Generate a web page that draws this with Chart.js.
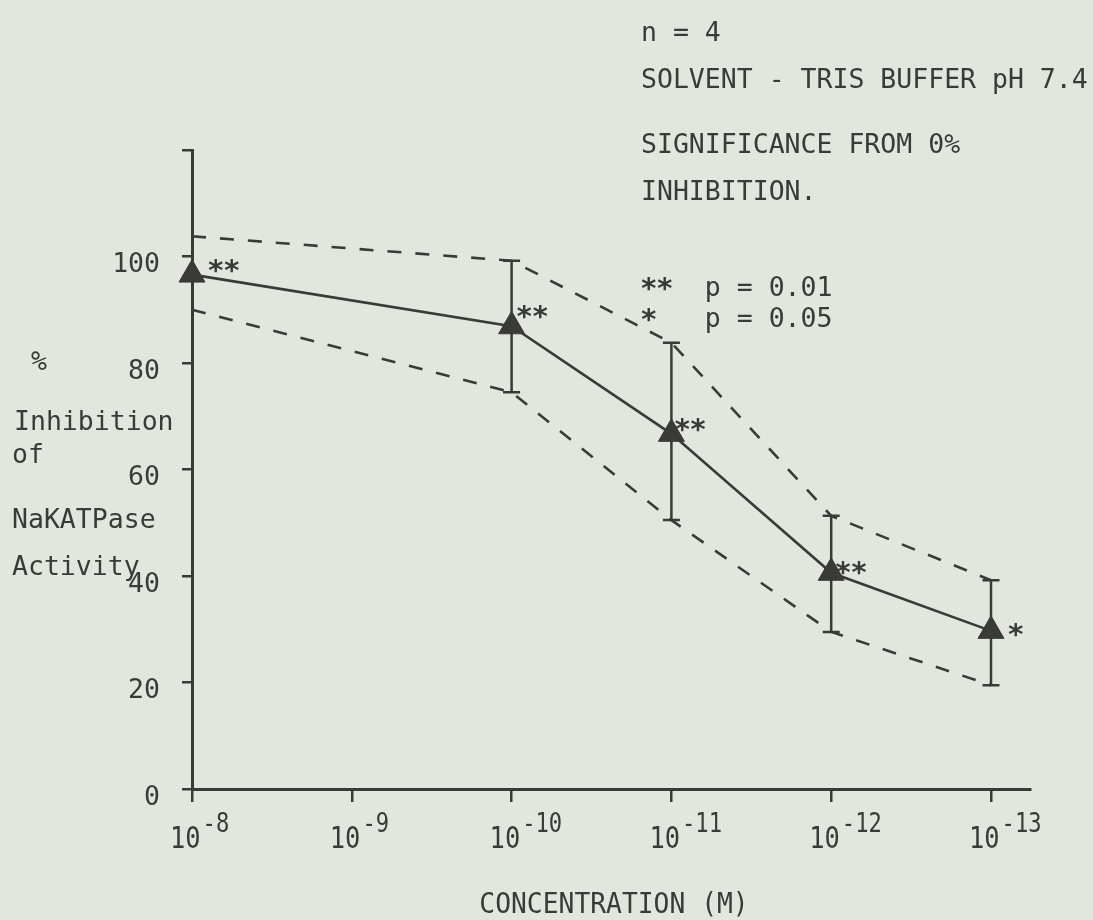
<!DOCTYPE html>
<html>
<head>
<meta charset="utf-8">
<script src="https://cdn.jsdelivr.net/npm/chart.js@4/dist/chart.umd.min.js"></script>
<style>
  html, body { margin: 0; padding: 0; background: #e3e6de; }
  #wrap { width: 1093px; height: 920px; position: relative; }
</style>
</head>
<body>
<div id="wrap"><canvas id="c" width="1093" height="920"></canvas></div>
<script>
// ---------- data ----------
const categoryBase = '10';
const categoryExponents = ['-8', '-9', '-10', '-11', '-12', '-13'];
const yTickValues = [0, 20, 40, 60, 80, 100, 120];
const yTickLabels = ['0', '20', '40', '60', '80', '100', ''];
const meanInhibition = [96.6, null, 86.9, 66.7, 40.6, 29.7];
const upperLimit = [103.8, null, 99.2, 83.8, 51.3, 39.2];
const lowerLimit = [90.0, null, 74.5, 50.5, 29.5, 19.5];
const errorBarHigh = [null, null, 99.2, 83.8, 51.3, 39.2];
const errorBarLow = [null, null, 74.5, 50.5, 29.5, 19.5];
const significance = ['**', '', '**', '**', '**', '*'];
const notes = ['n = 4', 'SOLVENT - TRIS BUFFER pH 7.4', 'SIGNIFICANCE FROM 0%', 'INHIBITION.', '**  p = 0.01', '*   p = 0.05'];
const yTitleLines = ['%', 'Inhibition', 'of', 'NaKATPase', 'Activity'];
const xTitle = 'CONCENTRATION (M)';

// ---------- style ----------
const ink = '#3a3a36';
const FAM = '"DejaVu Sans Mono", "Liberation Mono", monospace';

function txt(ctx, s, x, y, size, sx, align) {
  ctx.save();
  ctx.font = size + 'px ' + FAM;
  ctx.fillStyle = ink;
  ctx.textBaseline = 'alphabetic';
  ctx.textAlign = align || 'left';
  ctx.translate(x, y);
  ctx.scale(sx || 1, 1);
  ctx.fillText(s, 0, 0);
  ctx.restore();
}

// monospace text where asterisks are drawn heavier (typewriter look)
function txtStars(ctx, s, x, y, size) {
  ctx.save();
  ctx.fillStyle = ink;
  ctx.textBaseline = 'alphabetic';
  ctx.textAlign = 'left';
  ctx.font = size + 'px ' + FAM;
  const adv = ctx.measureText('M').width;
  [...s].forEach((ch, k) => {
    if (ch === '*') {
      ctx.font = 'bold ' + (size * 1.1) + 'px ' + FAM;
      ctx.fillText(ch, x + k * adv - 1, y + 2);
      ctx.font = size + 'px ' + FAM;
    } else {
      ctx.fillText(ch, x + k * adv, y);
    }
  });
  ctx.restore();
}

const overlay = {
  id: 'overlay',
  beforeDatasetsDraw(chart) {
    const { ctx, scales: { x, y } } = chart;
    ctx.save();
    ctx.strokeStyle = ink;
    ctx.lineWidth = 2.5;
    errorBarHigh.forEach((hi, i) => {
      const lo = errorBarLow[i];
      if (hi == null || lo == null) return;
      const px = x.getPixelForValue(i);
      const p1 = y.getPixelForValue(hi), p2 = y.getPixelForValue(lo);
      ctx.beginPath();
      ctx.moveTo(px, p1); ctx.lineTo(px, p2);
      ctx.moveTo(px - 8.5, p1); ctx.lineTo(px + 8.5, p1);
      ctx.moveTo(px - 8.5, p2); ctx.lineTo(px + 8.5, p2);
      ctx.stroke();
    });
    ctx.restore();
  },
  afterDraw(chart) {
    const { ctx, scales: { x, y } } = chart;
    // x tick labels with superscripts
    categoryExponents.forEach((e, i) => {
      const px = x.getPixelForValue(i);
      const left = px - 22;
      txt(ctx, categoryBase, left, 848, 31, 0.82);
      ctx.save(); ctx.font = '31px ' + FAM;
      const w = ctx.measureText(categoryBase).width * 0.82;
      ctx.restore();
      txt(ctx, e, left + w + 2, 832, 27, 0.82);
    });
    // x title
    txt(ctx, xTitle, 614, 913, 28, 0.94, 'center');
    // y title
    const yTitlePos = [[31, 370], [14, 430], [12, 463], [12, 528], [12, 575]];
    yTitleLines.forEach((s, i) => txt(ctx, s, yTitlePos[i][0], yTitlePos[i][1], 26.5, 1));
    // notes
    const noteBase = [41, 88, 153, 200, 296, 327];
    notes.forEach((s, i) => txtStars(ctx, s, 641, noteBase[i], 26.5));
    // significance stars next to points
    const starOff = [[17, -12], [0, 0], [6, -17], [4, -12], [5, -8], [18, -4]];
    significance.forEach((s, i) => {
      if (!s || meanInhibition[i] == null) return;
      const px = x.getPixelForValue(i), py = y.getPixelForValue(meanInhibition[i]);
      txtStars(ctx, s, px + starOff[i][0] - 1, py + starOff[i][1] + 15, 26.5);
    });
  }
};

const pts = arr => arr.map((v, i) => ({ x: i, y: v }));

new Chart(document.getElementById('c').getContext('2d'), {
  type: 'line',
  data: {
    datasets: [
      { label: 'upper', data: pts(upperLimit), borderColor: ink, borderWidth: 2.6, borderDash: [14, 14],
        pointRadius: 0, spanGaps: true, clip: false, fill: false, tension: 0 },
      { label: 'lower', data: pts(lowerLimit), borderColor: ink, borderWidth: 2.6, borderDash: [14, 14],
        pointRadius: 0, spanGaps: true, clip: false, fill: false, tension: 0 },
      { label: 'mean', data: pts(meanInhibition), borderColor: ink, borderWidth: 2.6,
        pointStyle: 'triangle', pointRadius: 15, pointBackgroundColor: ink, pointBorderColor: ink,
        pointBorderWidth: 1, spanGaps: true, clip: false, fill: false, tension: 0 }
    ]
  },
  options: {
    responsive: false,
    animation: false,
    events: [],
    layout: { padding: { left: 0, right: 63, top: 150, bottom: 0 } },
    plugins: { legend: { display: false }, tooltip: { enabled: false } },
    scales: {
      x: {
        type: 'linear', min: 0, max: 5.244,
        afterBuildTicks: s => { s.ticks = categoryExponents.map((e, i) => ({ value: i })); },
        afterFit: s => { s.height = 131; },
        ticks: { display: false },
        grid: { display: true, drawOnChartArea: false, drawTicks: true, tickLength: 13, color: ink, lineWidth: 2.5 },
        border: { display: true, color: ink, width: 3 }
      },
      y: {
        type: 'linear', min: 0, max: 120,
        afterBuildTicks: s => { s.ticks = yTickValues.map(v => ({ value: v })); },
        afterFit: s => { s.width = 192; },
        ticks: {
          callback: (v, i) => yTickLabels[i],
          font: { family: FAM, size: 26.5 }, color: ink, padding: 22, labelOffset: 9
        },
        grid: { display: true, drawOnChartArea: false, drawTicks: true, tickLength: 10, color: ink, lineWidth: 2.5 },
        border: { display: true, color: ink, width: 3 }
      }
    }
  },
  plugins: [overlay]
});
</script>
</body>
</html>
